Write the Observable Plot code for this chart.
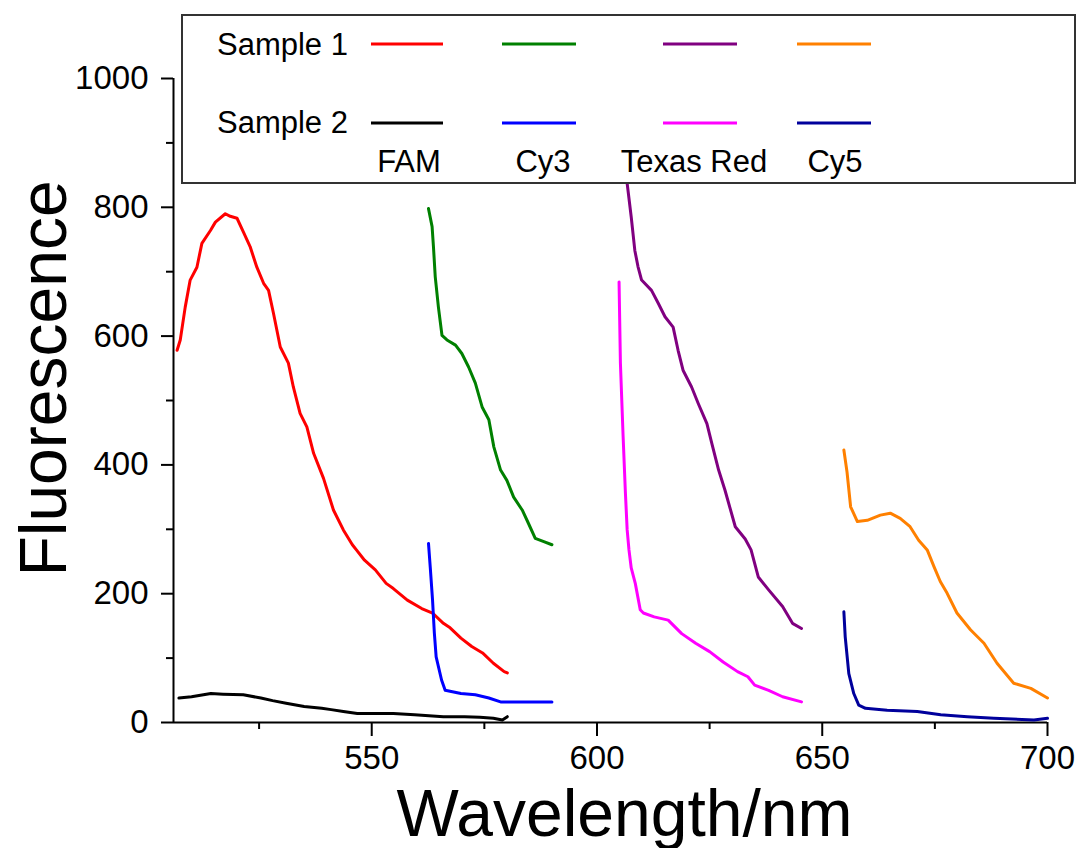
<!DOCTYPE html>
<html><head><meta charset="utf-8">
<script src="https://cdn.jsdelivr.net/npm/d3@7"></script>
<script src="https://cdn.jsdelivr.net/npm/@observablehq/plot@0.6"></script>
<style>
html,body{margin:0;padding:0;background:#fff;}
#wrap{position:relative;width:1080px;height:848px;overflow:hidden;font-family:"Liberation Sans",Arial,sans-serif;}
#wrap svg{display:block;}
#legend{position:absolute;left:0;top:0;pointer-events:none;}
</style></head><body><div id="wrap"></div>
<script>
// ---------- data ----------
const X_DOMAIN = [506, 700];
const Y_DOMAIN = [0, 1000];
const X_MAJOR = [550, 600, 650, 700];
const X_MINOR = [525, 575, 625, 675];
const Y_MAJOR = [0, 200, 400, 600, 800, 1000];
const Y_MINOR = [100, 300, 500, 700, 900];

const DYES = ["FAM", "Cy3", "Texas Red", "Cy5"];
const SAMPLES = ["Sample 1", "Sample 2"];
const S1_COLORS = ["#ff0000", "#008000", "#800080", "#ff8000"];
const S2_COLORS = ["#000000", "#0000ff", "#ff00ff", "#00009c"];

const FAM_S1 = [[506.8,578],[507.5,594],[508.6,645],[509.7,687],[511.2,707],[512.3,744],[514.2,764],[515.3,777],[517.5,790],[518.6,786],[520.1,783],[521.5,762],[523.0,739],[524.5,707],[526.0,682],[527.1,671],[528.2,635],[529.7,583],[531.5,558],[532.6,521],[534.1,480],[535.6,459],[537.1,418],[539.3,379],[541.5,330],[543.7,299],[545.7,276],[546.6,268],[548.4,252],[550.8,237],[553.2,216],[554.8,208],[557.9,190],[561.1,177],[563.5,170],[565.9,154],[567.4,147],[569.8,131],[572.2,118],[574.6,108],[577,92],[579.4,79],[580.1,77]];
const FAM_S2 = [[507.2,38],[510,40],[514.3,45],[517,44],[521.5,43],[525.4,38],[528,34],[531,30],[535,25],[538.9,22],[541,20],[543.7,17],[546.8,14],[550,14],[554.8,14],[559.5,12],[565.9,9],[570.6,9],[574,8],[577,6.5],[579,4],[580.1,9]];
const CY3_S1 = [[562.6,798],[563.4,770],[563.7,739],[564.1,692],[564.8,645],[565.6,601],[566.7,594],[568.6,586],[570,573],[571.5,552],[573,527],[574.5,490],[576,470],[577.1,428],[578.6,392],[580,376],[581.5,350],[583.4,330],[584.8,309],[586.3,286],[588.2,281],[590,276]];
const CY3_S2 = [[562.6,278],[563.0,240],[563.5,190],[563.9,139],[564.3,102],[565.5,66],[566.3,50],[569.8,45],[573,43],[576,38],[578.6,32],[590,32]];
const TR_S1 = [[606.0,960],[606.4,890],[606.7,837],[607.6,785],[608.4,733],[609.1,708],[609.9,687],[612.1,671],[613.6,651],[615.1,630],[616.9,614],[618,578],[619.1,547],[621,521],[622.5,495],[624.4,464],[625.5,433],[627,392],[628.4,361],[630.7,304],[632.9,285],[634.2,268],[635.8,226],[638.1,206],[641.2,180],[643.4,154],[645.4,146]];
const TR_S2 = [[604.9,684],[605.2,558],[605.8,444],[606.3,358],[606.7,299],[607.1,268],[607.6,240],[608.5,216],[609.6,175],[610.3,170],[612.7,164],[615.8,159],[618.8,138],[621.9,123],[625,110],[628,94],[631.2,79],[633.5,71],[635,58],[638.1,50],[641.2,40],[645.4,32]];
const CY5_S1 = [[654.8,423],[655.5,389],[656.3,335],[657.8,312],[660,314],[662.9,322],[665.1,325],[667.3,317],[669.5,304],[671.4,283],[673.3,268],[674.8,242],[676.2,219],[677.7,201],[679.9,170],[682.9,144],[685.9,123],[688.8,92],[692.5,61],[696.3,53],[700,38]];
const CY5_S2 = [[654.8,172],[655.1,133],[655.9,76],[657,45],[658.1,27],[659.6,22],[664.4,19],[671.1,17],[676.3,12],[682.2,9],[688.1,6.5],[697,4],[700,6.5]];

const S1_DATA = [FAM_S1, CY3_S1, TR_S1, CY5_S1];
const S2_DATA = [FAM_S2, CY3_S2, TR_S2, CY5_S2];

// ---------- build table ----------
const keys = [], colors = [], rows = [];
DYES.forEach((dye, i) => {
  [[SAMPLES[0], S1_DATA[i], S1_COLORS[i]], [SAMPLES[1], S2_DATA[i], S2_COLORS[i]]].forEach(([s, d, c]) => {
    const key = s + " " + dye;
    keys.push(key); colors.push(c);
    d.forEach(([w, v]) => rows.push({key, w, v}));
  });
});

const FONT = "'Liberation Sans', Arial, sans-serif";

const chart = Plot.plot({
  width: 1080, height: 848,
  marginLeft: 173, marginRight: 33, marginTop: 78, marginBottom: 126,
  x: {domain: X_DOMAIN},
  y: {domain: Y_DOMAIN},
  color: {domain: keys, range: colors},
  style: {fontFamily: FONT, background: "white", color: "black", overflow: "visible"},
  marks: [
    Plot.axisX(X_MAJOR, {tickSize: 14, tickPadding: 9, fontSize: 33, strokeWidth: 2, tickFormat: "d", label: null}),
    Plot.axisX(X_MINOR, {tickSize: 7, text: null, strokeWidth: 2, label: null}),
    Plot.axisY(Y_MAJOR, {tickSize: 12, tickPadding: 13, fontSize: 33, strokeWidth: 2, tickFormat: "d", label: null}),
    Plot.axisY(Y_MINOR, {tickSize: 7, text: null, strokeWidth: 2, label: null}),
    Plot.ruleY([Y_DOMAIN[0]], {strokeWidth: 2}),
    Plot.ruleX([X_DOMAIN[0]], {strokeWidth: 2}),
    Plot.text(["Wavelength/nm"], {text: d => d, frameAnchor: "bottom", textAnchor: "middle", lineAnchor: "bottom", dx: 14, dy: 113, fontSize: 66}),
    Plot.text(["Fluorescence"], {text: d => d, frameAnchor: "left", textAnchor: "middle", rotate: -90, lineAnchor: "bottom", dx: -108, dy: -22, fontSize: 66}),
    Plot.line(rows, {x: "w", y: "v", z: "key", stroke: "key", strokeWidth: 3})
  ]
});
const wrap = document.getElementById("wrap");
wrap.appendChild(chart);

// ---------- legend overlay ----------
const SWATCH_X = [[371, 443], [502, 576], [663, 737], [797, 871]];
const LABEL_CX = [409, 543, 694, 835];
const ROW_Y = [44, 123];
const ROW_BASE = [55, 133];
const leg = d3.select(wrap).append("svg").attr("id", "legend")
  .attr("width", 1080).attr("height", 848)
  .style("font-family", FONT);
leg.append("rect").attr("x", 182).attr("y", 15).attr("width", 893).attr("height", 168)
  .attr("fill", "white").attr("stroke", "#333").attr("stroke-width", 2);
SAMPLES.forEach((s, r) => {
  leg.append("text").attr("x", 217).attr("y", ROW_BASE[r]).attr("font-size", 31).text(s);
  const cols = r === 0 ? S1_COLORS : S2_COLORS;
  cols.forEach((c, i) => {
    leg.append("line").attr("x1", SWATCH_X[i][0]).attr("x2", SWATCH_X[i][1])
      .attr("y1", ROW_Y[r]).attr("y2", ROW_Y[r]).attr("stroke", c).attr("stroke-width", 3);
  });
});
DYES.forEach((d, i) => {
  leg.append("text").attr("x", LABEL_CX[i]).attr("y", 172).attr("font-size", 31)
    .attr("text-anchor", "middle").text(d);
});
</script>
</body></html>
